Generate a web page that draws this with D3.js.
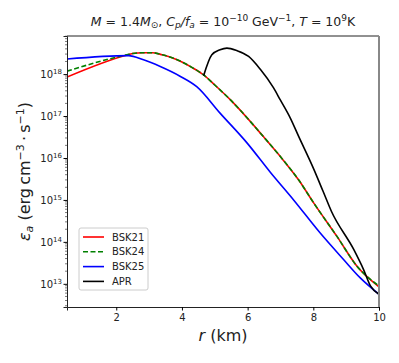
<!DOCTYPE html>
<html>
<head>
<meta charset="utf-8">
<script src="https://cdn.jsdelivr.net/npm/d3@7"></script>
<style>
  body { margin: 0; background: #fff; }
  text { font-family: "DejaVu Sans", sans-serif; fill: #222; }
</style>
</head>
<body>
<div id="chart"></div>
<script>
// radius (km) and log10 of emissivity
const bsk21R = [0.5, 2.3, 2.5, 2.8, 3.1, 3.4, 3.7, 4.0, 4.3, 4.66, 5.0, 5.47, 6.48, 6.99, 7.55, 8.01, 8.72, 9.33, 10];
const bsk21V = [17.93, 18.45, 18.49, 18.51, 18.51, 18.46, 18.39, 18.29, 18.16, 17.98, 17.74, 17.39, 16.51, 16.04, 15.48, 14.93, 14.13, 13.42, 12.93];

const bsk24R = [0.5, 2.2, 2.5, 2.8, 3.1, 3.4, 3.7, 4.0, 4.3, 4.66, 5.0, 5.47, 6.48, 6.99, 7.55, 8.01, 8.72, 9.33, 10];
const bsk24V = [18.07, 18.44, 18.49, 18.51, 18.51, 18.46, 18.39, 18.29, 18.16, 17.98, 17.74, 17.39, 16.51, 16.04, 15.48, 14.93, 14.13, 13.42, 12.95];

const bsk25R = [0.5, 2.37, 2.83, 3.34, 3.94, 4.45, 5.16, 5.98, 6.69, 7.4, 8.21, 8.92, 9.43, 10];
const bsk25V = [18.36, 18.44, 18.34, 18.18, 17.95, 17.70, 17.07, 16.36, 15.66, 15.0, 14.21, 13.58, 13.14, 12.75];

const aprR = [4.66, 4.91, 5.16, 5.37, 5.67, 6.03, 6.38, 6.79, 6.99, 7.3, 7.55, 8.01, 8.3, 8.55, 9.23, 9.53, 9.74, 10];
const aprV = [17.96, 18.46, 18.58, 18.62, 18.56, 18.42, 18.12, 17.67, 17.39, 16.95, 16.52, 15.74, 15.2, 14.73, 13.82, 13.34, 12.95, 12.75];

const xTicks = [2, 4, 6, 8, 10];
const yTickExps = [13, 14, 15, 16, 17, 18];

const series = [
  { name: "BSK21", r: bsk21R, v: bsk21V, color: "#ff0000", dash: null },
  { name: "BSK24", r: bsk24R, v: bsk24V, color: "#008000", dash: "5,2.5" },
  { name: "BSK25", r: bsk25R, v: bsk25V, color: "#0000ff", dash: null },
  { name: "APR",   r: aprR,   v: aprV,   color: "#000000", dash: null }
];

const W = 399, H = 363;
const margin = { top: 36, right: 20, bottom: 56, left: 67 };
const width = W - margin.left - margin.right;
const height = H - margin.top - margin.bottom;

const svg = d3.select("#chart").append("svg")
  .attr("width", W).attr("height", H);

const g = svg.append("g")
  .attr("transform", `translate(${margin.left},${margin.top})`);

const x = d3.scaleLinear().domain([0.5, 10]).range([0, width]);
const y = d3.scaleLog().domain([2.8e12, 8.1e18]).range([height, 0]);

// clip
svg.append("defs").append("clipPath").attr("id", "clip")
  .append("rect").attr("width", width).attr("height", height);

const line = d3.line()
  .x(d => x(d[0]))
  .y(d => y(Math.pow(10, d[1])))
  .curve(d3.curveMonotoneX);

const plot = g.append("g").attr("clip-path", "url(#clip)");
series.forEach(s => {
  const pts = s.r.map((r, i) => [r, s.v[i]]);
  plot.append("path")
    .datum(pts)
    .attr("d", line)
    .attr("fill", "none")
    .attr("stroke", s.color)
    .attr("stroke-width", 1.6)
    .attr("stroke-dasharray", s.dash);
});

// x axis
const xAxis = g.append("g")
  .attr("transform", `translate(0,${height})`)
  .call(d3.axisBottom(x).tickValues(xTicks).tickSize(3.5).tickPadding(3).tickFormat(d3.format("d")));
xAxis.select(".domain").attr("stroke", "#222");
xAxis.selectAll("text").style("font-size", "10px");

// y axis: major ticks
const yAxis = g.append("g")
  .call(d3.axisLeft(y).tickValues(yTickExps.map(e => Math.pow(10, e))).tickSize(3.5).tickFormat(""));
yAxis.select(".domain").attr("stroke", "#222");

// y minor ticks
const minors = [];
for (let e = 12; e <= 18; e++) {
  for (let m = 2; m <= 9; m++) {
    const v = m * Math.pow(10, e);
    if (v >= y.domain()[0] && v <= y.domain()[1]) minors.push(v);
  }
}
g.append("g").selectAll("line").data(minors).join("line")
  .attr("x1", -2).attr("x2", 0)
  .attr("y1", d => y(d)).attr("y2", d => y(d))
  .attr("stroke", "#222").attr("stroke-width", 0.6);

// y tick labels with superscripts
const yl = g.append("g").selectAll("text").data(yTickExps).join("text")
  .attr("x", -5)
  .attr("y", d => y(Math.pow(10, d)) + 4)
  .attr("text-anchor", "end")
  .style("font-size", "10px");
yl.append("tspan").text("10");
yl.append("tspan").attr("dy", -4).style("font-size", "7px").text(d => d);

// spines
g.append("line").attr("x1", 0).attr("x2", width).attr("y1", 0).attr("y2", 0)
  .attr("stroke", "#222");
g.append("line").attr("x1", width).attr("x2", width).attr("y1", 0).attr("y2", height)
  .attr("stroke", "#888").attr("stroke-width", 2);

// title
const title = svg.append("text")
  .attr("x", margin.left + width / 2).attr("y", 26)
  .attr("text-anchor", "middle")
  .style("font-size", "12.5px");
title.append("tspan").style("font-style", "italic").text("M");
title.append("tspan").text(" = 1.4");
title.append("tspan").style("font-style", "italic").text("M");
title.append("tspan").attr("dy", 2).style("font-size", "9px").text("\u2299");
title.append("tspan").attr("dy", -2).text(", ");
title.append("tspan").style("font-style", "italic").text("C");
title.append("tspan").attr("dy", 2).style("font-size", "9px").style("font-style", "italic").text("p");
title.append("tspan").attr("dy", -2).style("font-style", "italic").text("/f");
title.append("tspan").attr("dy", 2).style("font-size", "9px").style("font-style", "italic").text("a");
title.append("tspan").attr("dy", -2).text(" = 10");
title.append("tspan").attr("dy", -5).style("font-size", "9px").text("\u221210");
title.append("tspan").attr("dy", 5).text(" GeV");
title.append("tspan").attr("dy", -5).style("font-size", "9px").text("\u22121");
title.append("tspan").attr("dy", 5).text(", ");
title.append("tspan").style("font-style", "italic").text("T");
title.append("tspan").text(" = 10");
title.append("tspan").attr("dy", -5).style("font-size", "9px").text("9");
title.append("tspan").attr("dy", 5).text("K");

// x label
const xl = svg.append("text")
  .attr("x", margin.left + width / 2).attr("y", 341)
  .attr("text-anchor", "middle")
  .style("font-size", "16px");
xl.append("tspan").style("font-style", "italic").text("r");
xl.append("tspan").text(" (km)");

// y label
const ylab = svg.append("text")
  .attr("transform", `translate(30,${margin.top + height / 2}) rotate(-90)`)
  .attr("text-anchor", "middle")
  .style("font-size", "16px");
ylab.append("tspan").style("font-style", "italic").text("\u03b5");
ylab.append("tspan").attr("dy", 3).style("font-size", "11px").style("font-style", "italic").text("a");
ylab.append("tspan").attr("dy", -3).text(" (erg\u2009cm");
ylab.append("tspan").attr("dy", -6).style("font-size", "11px").text("\u22123");
ylab.append("tspan").attr("dy", 6).text("\u2009\u00b7\u2009s");
ylab.append("tspan").attr("dy", -6).style("font-size", "11px").text("\u22121");
ylab.append("tspan").attr("dy", 6).text(")");

// legend
const leg = svg.append("g").attr("transform", "translate(79,228)");
leg.append("rect")
  .attr("width", 69).attr("height", 62).attr("rx", 2)
  .attr("fill", "#fff").attr("fill-opacity", 0.8)
  .attr("stroke", "#ccc");
series.forEach((s, i) => {
  const yy = 9 + i * 14.8;
  leg.append("line")
    .attr("x1", 4).attr("x2", 25).attr("y1", yy).attr("y2", yy)
    .attr("stroke", s.color).attr("stroke-width", 1.6)
    .attr("stroke-dasharray", s.dash);
  leg.append("text").attr("x", 33).attr("y", yy + 3.5)
    .style("font-size", "10px").text(s.name);
});
</script>
</body>
</html>
